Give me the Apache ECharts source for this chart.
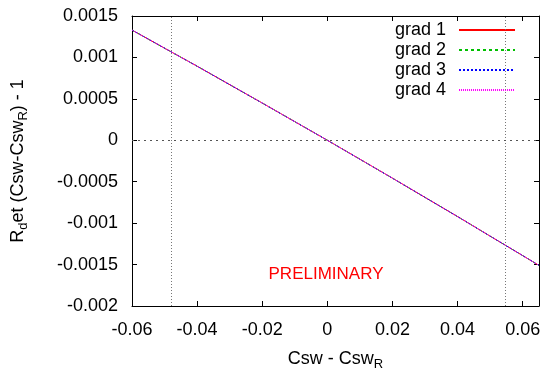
<!DOCTYPE html>
<html>
<head>
<meta charset="utf-8">
<title>R_det vs Csw</title>
<style>
  html, body { margin: 0; padding: 0; background: #fff; overflow: hidden; }
  #chart { width: 547px; height: 376px; }
</style>
</head>
<body>
<div id="chart"></div>
<script src="https://cdn.jsdelivr.net/npm/echarts@6/dist/echarts.min.js"></script>
<script>
// Csw - Csw_R sample points
var cswShift = [-0.06, -0.04, -0.02, 0, 0.02, 0.04, 0.065];
// R_det(Csw - Csw_R) - 1 for each gradient flow variant
var grad1 = [0.00133, 0.000894, 0.000450, 0, -0.000457, -0.000921, -0.00151];
var grad2 = [0.00133, 0.000893, 0.000450, 0, -0.000457, -0.000922, -0.00151];
var grad3 = [0.00133, 0.000894, 0.000449, 0, -0.000458, -0.000921, -0.00151];
var grad4 = [0.00133, 0.000894, 0.000450, 0, -0.000457, -0.000921, -0.00151];
var seriesNames = ['grad 1', 'grad 2', 'grad 3', 'grad 4'];
// vertical reference cuts
var cutLow = -0.0478;
var cutHigh = 0.0545;

var FONT = 'Liberation Sans, Arial, sans-serif';

function pairs(ys) {
  return cswShift.map(function (x, i) { return [x, ys[i]]; });
}

var chart = echarts.init(document.getElementById('chart'));

var tickStyle = { show: true, inside: true, length: 5, lineStyle: { color: '#000' } };
var lineAxis = { onZero: false, lineStyle: { color: '#000', width: 1 } };

var option = {
  animation: false,
  backgroundColor: '#fff',
  textStyle: { fontFamily: FONT },
  grid: { left: 132, right: 8, top: 16, bottom: 60 },
  legend: {
    data: seriesNames,
    orient: 'vertical',
    right: 26,
    top: 16,
    align: 'right',
    itemWidth: 56,
    itemHeight: 12,
    itemGap: 2,
    itemStyle: { opacity: 0, borderWidth: 0 },
    textStyle: { fontSize: 18, color: '#000', fontFamily: FONT, padding: [0, 8, 0, 0] }
  },
  xAxis: [{
    type: 'value',
    min: -0.06,
    max: 0.065,
    interval: 0.02,
    name: 'Csw - Csw{sub|R}',
    nameLocation: 'middle',
    nameGap: 42,
    nameTextStyle: {
      fontSize: 18, color: '#000', fontFamily: FONT,
      rich: { sub: { fontSize: 13, color: '#000', verticalAlign: 'bottom', padding: [10, 0, 0, 0] } }
    },
    axisLine: lineAxis,
    axisTick: tickStyle,
    splitLine: { show: false },
    axisLabel: {
      fontSize: 18, color: '#000', margin: 15,
      formatter: function (v) {
        var k = v / 0.02;
        if (Math.abs(k - Math.round(k)) > 1e-6) return '';
        return String(Math.round(k) * 2 / 100);
      }
    }
  }, {
    type: 'value',
    position: 'top',
    min: -0.06,
    max: 0.065,
    interval: 0.02,
    axisLine: lineAxis,
    axisTick: tickStyle,
    axisLabel: { show: false },
    splitLine: { show: false }
  }],
  yAxis: [{
    type: 'value',
    min: -0.002,
    max: 0.0015,
    interval: 0.0005,
    name: 'R{sub|d}et (Csw-Csw{sub|R}) - 1',
    nameLocation: 'middle',
    nameGap: 102,
    nameTextStyle: {
      fontSize: 18, color: '#000', fontFamily: FONT,
      rich: { sub: { fontSize: 13, color: '#000', verticalAlign: 'bottom', padding: [10, 0, 0, 0] } }
    },
    axisLine: lineAxis,
    axisTick: tickStyle,
    splitLine: { show: false },
    axisLabel: { fontSize: 18, color: '#000', margin: 14 }
  }, {
    type: 'value',
    position: 'right',
    min: -0.002,
    max: 0.0015,
    interval: 0.0005,
    axisLine: lineAxis,
    axisTick: tickStyle,
    axisLabel: { show: false },
    splitLine: { show: false }
  }],
  graphic: [{
    type: 'text',
    x: 326,
    y: 274,
    silent: true,
    style: {
      text: 'PRELIMINARY',
      fill: '#ff0000',
      font: '17px ' + FONT,
      align: 'center',
      verticalAlign: 'middle'
    }
  }],
  series: [{
    name: seriesNames[0],
    type: 'line',
    data: pairs(grad1),
    symbol: 'none',
    lineStyle: { color: '#ff0000', width: 1 },
    itemStyle: { color: '#ff0000' },
    markLine: {
      silent: true,
      symbol: 'none',
      precision: 6,
      label: { show: false },
      lineStyle: { color: '#777', width: 1, type: [1, 2] },
      data: [{ xAxis: cutLow }, { xAxis: cutHigh }, { yAxis: 0, lineStyle: { type: [2, 4], color: '#555' } }]
    }
  }, {
    name: seriesNames[1],
    type: 'line',
    data: pairs(grad2),
    symbol: 'none',
    lineStyle: { color: '#00c000', width: 1, type: [3, 3] },
    itemStyle: { color: '#00c000' }
  }, {
    name: seriesNames[2],
    type: 'line',
    data: pairs(grad3),
    symbol: 'none',
    lineStyle: { color: '#0000ff', width: 1, type: [2, 2] },
    itemStyle: { color: '#0000ff' }
  }, {
    name: seriesNames[3],
    type: 'line',
    data: pairs(grad4),
    symbol: 'none',
    lineStyle: { color: '#ff00ff', width: 1, type: [1, 1] },
    itemStyle: { color: '#ff00ff' }
  }]
};

chart.setOption(option);
</script>
</body>
</html>
